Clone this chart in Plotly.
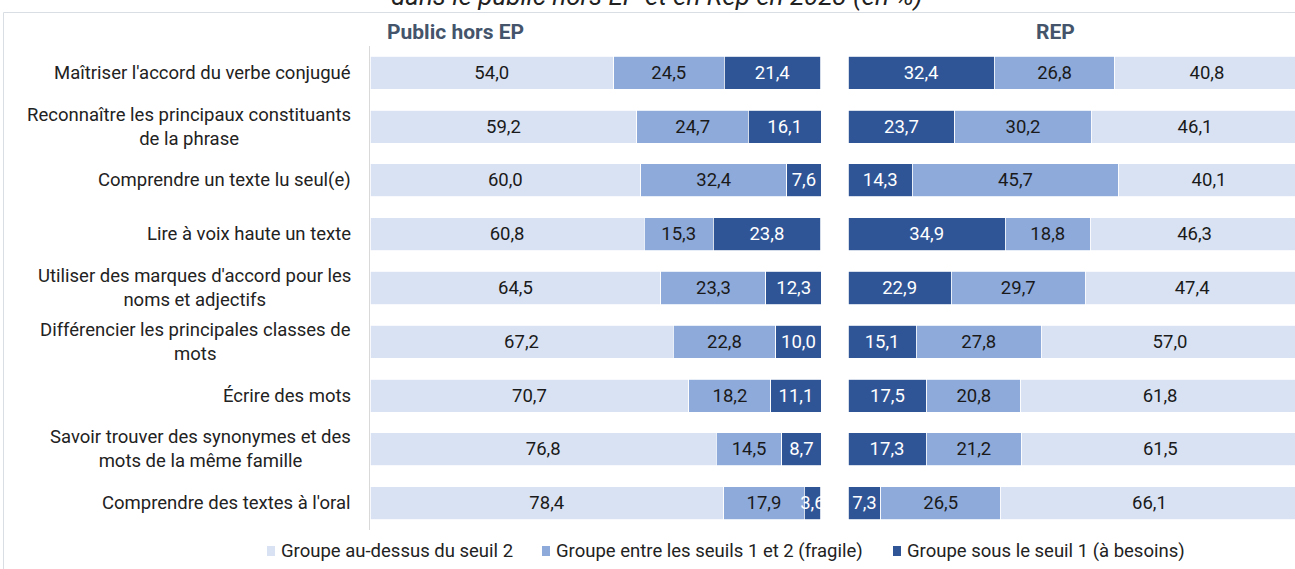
import plotly.graph_objects as go

categories = [
    "Maîtriser l'accord du verbe conjugué",
    "Reconnaître les principaux constituants<br>de la phrase",
    "Comprendre un texte lu seul(e)",
    "Lire à voix haute un texte",
    "Utiliser des marques d'accord pour les<br>noms et adjectifs",
    "Différencier les principales classes de<br>mots",
    "Écrire des mots",
    "Savoir trouver des synonymes et des<br>mots de la même famille",
    "Comprendre des textes à l'oral",
]

# Public hors EP
hors_ep_above = [54.0, 59.2, 60.0, 60.8, 64.5, 67.2, 70.7, 76.8, 78.4]
hors_ep_fragile = [24.5, 24.7, 32.4, 15.3, 23.3, 22.8, 18.2, 14.5, 17.9]
hors_ep_besoins = [21.4, 16.1, 7.6, 23.8, 12.3, 10.0, 11.1, 8.7, 3.6]

# REP
rep_besoins = [32.4, 23.7, 14.3, 34.9, 22.9, 15.1, 17.5, 17.3, 7.3]
rep_fragile = [26.8, 30.2, 45.7, 18.8, 29.7, 27.8, 20.8, 21.2, 26.5]
rep_above = [40.8, 46.1, 40.1, 46.3, 47.4, 57.0, 61.8, 61.5, 66.1]

series_names = [
    "Groupe au-dessus du seuil 2",
    "Groupe entre les seuils 1 et 2 (fragile)",
    "Groupe sous le seuil 1 (à besoins)",
]
colors = ["#D9E2F3", "#8EAADB", "#2F5597"]
text_colors = ["#1a1a1a", "#1a1a1a", "#ffffff"]

W, H = 1295, 569
L, R, T, B = 370, 0, 46, 39
PW, PH = W - L - R, H - T - B
FS = 18.5


def px_x(p):
    return (p - L) / PW


def px_y(p):
    return (H - B - p) / PH


fig = go.Figure()

left_data = [hors_ep_above, hors_ep_fragile, hors_ep_besoins]
for i, vals in enumerate(left_data):
    fig.add_trace(go.Bar(
        y=categories, x=vals, orientation="h", name=series_names[i],
        marker=dict(color=colors[i], line=dict(color="white", width=0.8)),
        text=vals, texttemplate="%{x:.1f}", textposition="inside", textangle=0,
        insidetextanchor="middle", constraintext="none",
        textfont=dict(color=text_colors[i], size=FS, family="Roboto"),
        xaxis="x", yaxis="y", showlegend=False,
        hoverinfo="skip",
    ))

right_data = [(rep_besoins, 2), (rep_fragile, 1), (rep_above, 0)]
for vals, ci in right_data:
    fig.add_trace(go.Bar(
        y=categories, x=vals, orientation="h", name=series_names[ci],
        marker=dict(color=colors[ci], line=dict(color="white", width=0.8)),
        text=vals, texttemplate="%{x:.1f}", textposition="inside", textangle=0,
        insidetextanchor="middle", constraintext="none",
        textfont=dict(color=text_colors[ci], size=FS, family="Roboto"),
        xaxis="x2", yaxis="y2", showlegend=False,
        hoverinfo="skip",
    ))

left_end = 821
right_start = 848
scale = (left_end - L) / 100.0

annotations = []
for c in categories:
    annotations.append(dict(
        text=c, xref="paper", x=px_x(353), xanchor="right", align="center",
        yref="y", y=c, yanchor="middle", showarrow=False,
        font=dict(size=FS, family="Roboto", color="#222222"),
    ))

annotations += [
    dict(text="<b>Public hors EP</b>", xref="paper", yref="paper",
         x=px_x(385), y=px_y(32), xanchor="left", yanchor="middle",
         showarrow=False, font=dict(size=21, family="Roboto", color="#44546A")),
    dict(text="<b>REP</b>", xref="paper", yref="paper",
         x=px_x(1055), y=px_y(32), xanchor="center", yanchor="middle",
         showarrow=False, font=dict(size=21, family="Roboto", color="#44546A")),
    dict(text="<i>dans le public hors EP et en Rep en 2023 (en %)</i>",
         xref="paper", yref="paper", x=px_x(657), y=px_y(-4),
         xanchor="center", yanchor="middle", showarrow=False,
         font=dict(size=26, family="Roboto", color="#222222")),
]

shapes = [dict(
    type="rect", xref="paper", yref="paper",
    x0=px_x(3.5), x1=px_x(1310), y0=px_y(600), y1=px_y(12.5),
    line=dict(color="#D9DEE4", width=1), fillcolor="rgba(0,0,0,0)", layer="below",
)]

# custom legend (marker square + label)
legend_marker_x = [267, 542, 893]
legend_y = 551
for i, name in enumerate(series_names):
    mx = legend_marker_x[i]
    shapes.append(dict(
        type="rect", xref="paper", yref="paper",
        x0=px_x(mx), x1=px_x(mx + 8), y0=px_y(legend_y + 5), y1=px_y(legend_y - 5),
        line=dict(width=0), fillcolor=colors[i],
    ))
    annotations.append(dict(
        text=name, xref="paper", yref="paper", x=px_x(mx + 12), y=px_y(legend_y),
        xanchor="left", yanchor="middle", showarrow=False,
        font=dict(size=FS, family="Roboto", color="#222222"),
    ))

fig.update_layout(
    width=W, height=H,
    margin=dict(l=L, r=R, t=T, b=B, autoexpand=False),
    barmode="stack", bargap=0.386,
    paper_bgcolor="white", plot_bgcolor="white",
    separators=", ",
    showlegend=False,
    font=dict(family="Roboto", size=FS, color="#222222"),
    xaxis=dict(domain=[0, px_x(left_end)], range=[0, 100], visible=False),
    xaxis2=dict(domain=[px_x(right_start), 1], range=[0, (W - right_start) / scale],
                visible=False, anchor="y2"),
    yaxis=dict(type="category", categoryorder="array", categoryarray=categories,
               autorange="reversed", showticklabels=False, showgrid=False,
               showline=True, linecolor="#D9D9D9", linewidth=1, ticks=""),
    yaxis2=dict(type="category", categoryorder="array", categoryarray=categories,
                autorange="reversed", showticklabels=False, showgrid=False,
                showline=False, anchor="x2", matches="y"),
    annotations=annotations,
    shapes=shapes,
)

fig.write_html(
    "out.html",
    config={"displayModeBar": False},
    post_script="document.body.style.margin='0px';document.body.style.overflow='hidden';",
)
